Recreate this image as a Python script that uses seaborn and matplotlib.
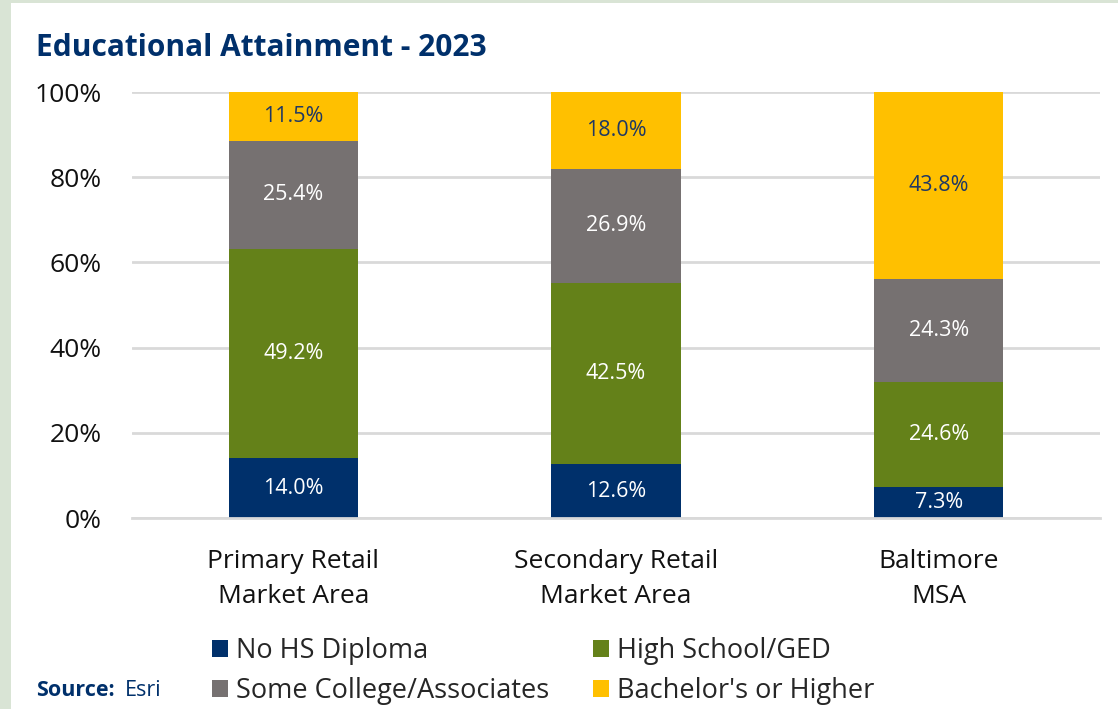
import matplotlib
matplotlib.use("Agg")
import matplotlib.pyplot as plt
from matplotlib.patches import Rectangle, Patch
import numpy as np
import pandas as pd
import seaborn as sns

# Data
areas = ["Primary Retail\nMarket Area", "Secondary Retail\nMarket Area", "Baltimore\nMSA"]
levels = ["No HS Diploma", "High School/GED", "Some College/Associates", "Bachelor's or Higher"]
no_hs = [14.0, 12.6, 7.3]
high_school = [49.2, 42.5, 24.6]
some_college = [25.4, 26.9, 24.3]
bachelors = [11.5, 18.0, 43.8]
y_ticks = [0, 20, 40, 60, 80, 100]
y_tick_labels = ["0%", "20%", "40%", "60%", "80%", "100%"]

colors = ["#00306B", "#648119", "#767171", "#FFC000"]
label_colors = ["white", "white", "white", "#1F3864"]
NAVY = "#00306B"

sns.set_theme(style="white")
plt.rcParams["font.family"] = ["Open Sans", "DejaVu Sans"]

series = [no_hs, high_school, some_college, bachelors]
df = pd.DataFrame({"area": np.repeat(areas, len(levels)),
                   "level": levels * len(areas),
                   "value": np.array(series).T.ravel()})

fig = plt.figure(figsize=(11.18, 7.09), dpi=100)
fig.patch.set_facecolor("white")
# light frame at top and left
fig.add_artist(Rectangle((0, 0), 11 / 1118, 1, transform=fig.transFigure,
                         facecolor="#D9E4D5", edgecolor="none"))
fig.add_artist(Rectangle((0, 1 - 3 / 709), 1, 3 / 709, transform=fig.transFigure,
                         facecolor="#D9E4D5", edgecolor="none"))

ax = fig.add_axes([132 / 1118, (709 - 518) / 709, (1100 - 132) / 1118, (518 - 92) / 709])

bottoms = np.zeros(len(areas))
for lvl, col, tcol in zip(levels, colors, label_colors):
    sub = df[df["level"] == lvl].set_index("area").loc[areas].reset_index()
    sns.barplot(data=sub, x="area", y="value", color=col, width=0.4,
                bottom=bottoms, ax=ax, saturation=1, linewidth=0,
                errorbar=None)
    cont = ax.containers[-1]
    ax.bar_label(cont, labels=[f"{v:.1f}%" for v in sub["value"]],
                 label_type="center", color=tcol, fontsize=15.5)
    bottoms = bottoms + sub["value"].values

ax.set_ylim(0, 100)
ax.set_xlim(-0.5, 2.5)
ax.set_yticks(y_ticks)
ax.set_yticklabels(y_tick_labels)
ax.yaxis.grid(True, color="#D9D9D9", linewidth=2)
ax.set_axisbelow(True)
for s in ["top", "right", "left"]:
    ax.spines[s].set_visible(False)
ax.spines["bottom"].set_color("#D9D9D9")
ax.spines["bottom"].set_linewidth(2)
ax.tick_params(axis="both", length=0, colors="#111111")
ax.tick_params(axis="y", pad=22, labelsize=19)
ax.tick_params(axis="x", pad=22, labelsize=19)
for t in ax.get_xticklabels():
    t.set_linespacing(1.55)
ax.set_xlabel("")
ax.set_ylabel("")

fig.text(36 / 1118, 1 - 48 / 709, "Educational Attainment - 2023", fontsize=21.5,
         fontweight="bold", color=NAVY, va="center", ha="left")

# legend filled row by row
order = [0, 2, 1, 3]
handles = [Patch(facecolor=colors[i], edgecolor="none") for i in order]
fig.legend(handles, [levels[i] for i in order], ncol=2, loc="center left",
           bbox_to_anchor=(212 / 1118, 1 - 671 / 709), frameon=False,
           fontsize=19.5, handlelength=0.6, handleheight=0.6,
           handletextpad=0.3, columnspacing=1.6, labelspacing=0.45,
           borderaxespad=0, borderpad=0)

fig.text(36 / 1118, 1 - 691 / 709, "Source:", fontsize=15.5, fontweight="bold",
         color=NAVY, va="center", ha="left")
fig.text(125 / 1118, 1 - 691 / 709, "Esri", fontsize=15.5, color=NAVY,
         va="center", ha="left")

fig.savefig("out.png", dpi=100)
